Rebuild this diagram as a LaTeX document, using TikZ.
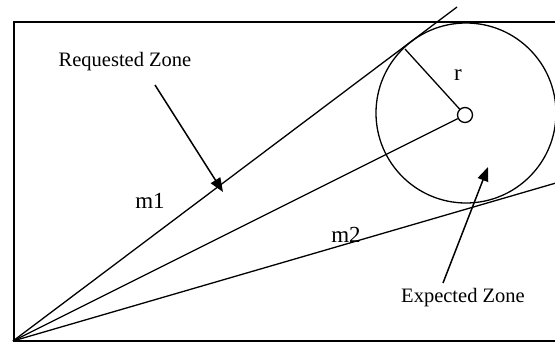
\documentclass[tikz,border=0pt]{standalone}
\usepackage{fontspec}
\setmainfont{Liberation Serif}
\usetikzlibrary{arrows.meta}
\tikzset{
  ln/.style={line width=1.3pt, black},
  pointer/.style={line width=1.5pt, -{Triangle[length=14pt,width=11pt]}},
  zonelabel/.style={font=\fontsize{20.5}{24}\selectfont, anchor=base, inner sep=0pt},
  mlabel/.style={font=\fontsize{23}{27}\selectfont, anchor=base, inner sep=0pt},
}
\begin{document}
\begin{tikzpicture}[x=1pt,y=-1pt]
\useasboundingbox (0,0) rectangle (555,343);
% frame (right side lies beyond the picture)
\draw[ln] (14,22) rectangle (600,341);
% expected zone circle
\node[ln, draw, circle, minimum size=180pt, inner sep=0pt] (ez) at (466,113) {};
% centre point
\node[ln, draw, circle, fill=white, minimum size=15pt, inner sep=0pt] (c) at (465,115) {};
\coordinate (O) at (13,341);
\coordinate (t) at (405,49);
\coordinate (e1) at (457,7);
\coordinate (e2) at (580,176);
% lines
\draw[ln] (O) -- (e1);
\draw[ln] (O) -- (e2);
\draw[ln] (O) -- (c);
\draw[ln] (c) -- (t);
% labels
\node[mlabel] (r) at (458,80) {r};
\node[mlabel] (m1) at (150,208) {m1};
\node[mlabel] (m2) at (346,242) {m2};
\node[zonelabel] (rz) at (125,66) {Requested Zone};
\node[zonelabel] (xz) at (463,302) {Expected Zone};
% pointers
\coordinate (rzs) at (155,85);
\coordinate (rzt) at (223,192);
\coordinate (xzs) at (443,283);
\coordinate (xzt) at (488,167);
\draw[pointer] (rzs) -- (rzt);
\draw[pointer] (xzs) -- (xzt);
\end{tikzpicture}
\end{document}
